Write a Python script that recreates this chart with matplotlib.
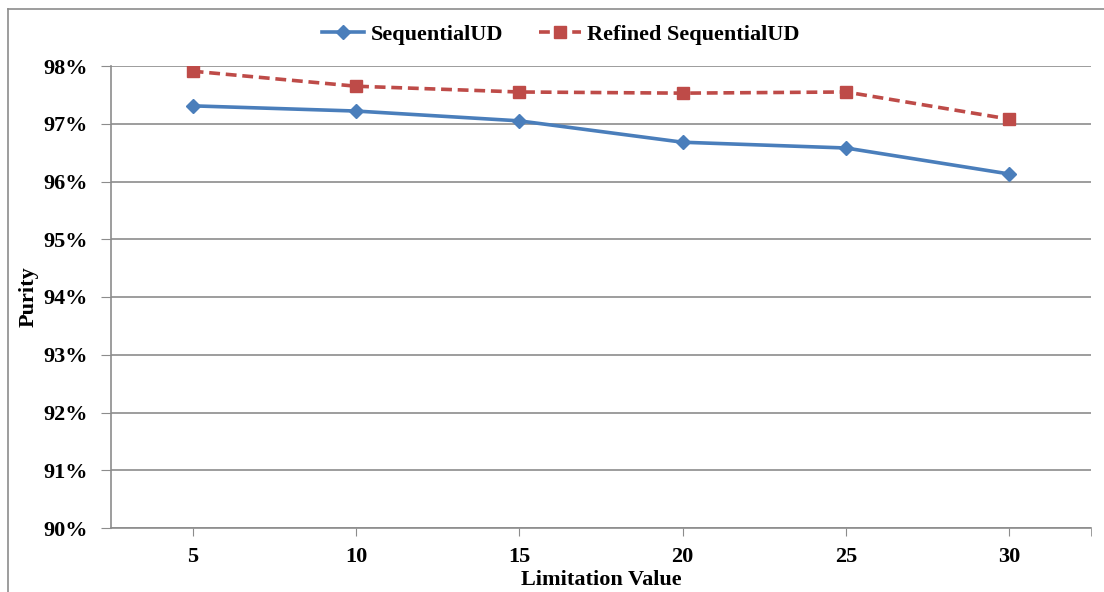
import numpy as np
import matplotlib.pyplot as plt
from matplotlib.lines import Line2D
from matplotlib.ticker import FuncFormatter

# data
limits = ["5", "10", "15", "20", "25", "30"]
seq_ud = [97.31, 97.22, 97.05, 96.68, 96.58, 96.13]
refined_ud = [97.91, 97.65, 97.55, 97.53, 97.55, 97.08]

plt.rcParams['font.family'] = ['Liberation Serif', 'DejaVu Serif']
plt.rcParams['font.weight'] = 'bold'

fig = plt.figure(figsize=(11.04, 5.92), dpi=100)
ax = fig.add_axes([111/1104, 64/592, (1091-111)/1104, (528-66)/592])

x = np.arange(len(limits))
ax.plot(x, seq_ud, color='#4a7ebb', lw=2.6, marker='D', ms=7,
        label='SequentialUD')
ax.plot(x, refined_ud, color='#be4b48', lw=2.6, ls=(0, (3, 1.6)),
        marker='s', ms=8.5, label='Refined SequentialUD')

ax.set_xlim(-0.5, len(limits) - 0.5)
ax.set_ylim(90, 98)
ax.set_yticks(np.arange(90, 98.1, 1))
ax.yaxis.set_major_formatter(FuncFormatter(lambda v, p: f"{v:.0f}%"))
ax.set_xticks(x)
ax.set_xticklabels(limits)
ax.set_xticks([len(limits) - 0.5], minor=True)

ax.grid(axis='y', color='#8c8c8c', lw=1.2)
ax.set_axisbelow(True)
for s in ['top', 'right']:
    ax.spines[s].set_visible(False)
for s in ['left', 'bottom']:
    ax.spines[s].set_color('#8c8c8c')
    ax.spines[s].set_linewidth(1.2)

ax.tick_params(axis='y', length=7, color='#8c8c8c', labelsize=16, pad=10)
ax.tick_params(axis='x', which='both', length=6, color='#8c8c8c',
               labelsize=16, pad=8)

ax.set_xlabel("Limitation Value", fontsize=16, fontweight='bold', labelpad=2)
ax.set_ylabel("Purity", fontsize=16, fontweight='bold', labelpad=3)

leg = fig.legend(handles=ax.get_lines(), loc='center',
                 bbox_to_anchor=(0.508, 1 - 35/592), ncol=2,
                 frameon=False, fontsize=16, handlelength=1.9,
                 columnspacing=1.6, handletextpad=0.3)
for t in leg.get_texts():
    t.set_fontweight('bold')

# outer chart border (left and top edges visible)
fig.add_artist(Line2D([8/1104, 8/1104], [0, 1 - 9/592], color='#8c8c8c',
                      lw=1.2, transform=fig.transFigure))
fig.add_artist(Line2D([8/1104, 1], [1 - 9/592, 1 - 9/592], color='#8c8c8c',
                      lw=1.2, transform=fig.transFigure))

fig.savefig("out.png", dpi=100)
